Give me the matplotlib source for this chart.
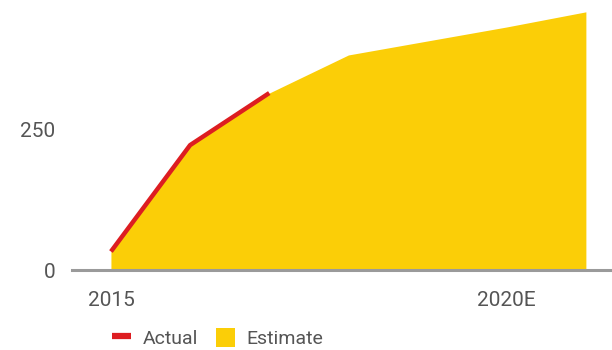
import matplotlib.pyplot as plt
from matplotlib.lines import Line2D
from matplotlib.patches import Patch

# data
years = [2015, 2016, 2017, 2018, 2019, 2020, 2021]
estimate = [33, 223, 316, 384, 409, 434, 461]
actual_years = [2015, 2016, 2017]
actual = [33, 223, 316]
yticks = [0, 250, 500]
xticks = [2015, 2020]
xtick_labels = ["2015", "2020E"]

yellow = "#FBCE07"
red = "#DD1D21"
grey = "#9a9a9a"
text_col = "#555555"

plt.rcParams['font.family'] = ['Roboto', 'DejaVu Sans']

fig = plt.figure(figsize=(6.12, 3.5), dpi=100)
# axes top goes past the figure so the 500 label gets cut like the original
ax = fig.add_axes([72 / 612, 80 / 350, 540 / 612, 280 / 350])

ax.fill_between(years, estimate, 0, color=yellow, lw=0)
ax.plot(actual_years, actual, color=red, lw=3.2, solid_capstyle='butt', zorder=3)

ax.set_xlim(2014.508, 2021.33)
ax.set_ylim(0, 500)

ax.set_yticks(yticks)
ax.set_xticks(xticks)
ax.set_xticklabels(xtick_labels)
ax.tick_params(axis='both', length=0, labelsize=15, colors=text_col)
ax.tick_params(axis='y', pad=12)
ax.tick_params(axis='x', pad=15)

for s in ['top', 'right', 'left']:
    ax.spines[s].set_visible(False)
ax.spines['bottom'].set_color(grey)
ax.spines['bottom'].set_linewidth(2.2)

handles = [Line2D([0], [0], color=red, lw=4.5, solid_capstyle='butt'),
           Patch(color=yellow, lw=0)]
leg = fig.legend(handles, ["Actual", "Estimate"], ncol=2, frameon=False,
                 loc='center left', bbox_to_anchor=(102 / 612, 12 / 350),
                 fontsize=14, handlelength=1.0, handleheight=1.1,
                 handletextpad=0.6, columnspacing=0.9, borderpad=0,
                 labelcolor=text_col)

fig.savefig("out.png", dpi=100)
